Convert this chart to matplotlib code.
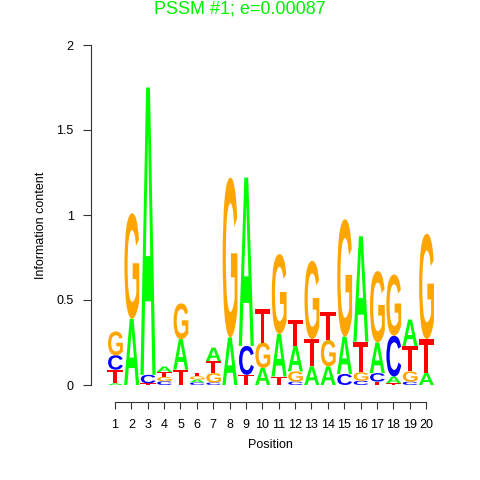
import matplotlib
matplotlib.use('Agg')
import matplotlib.pyplot as plt
from matplotlib.textpath import TextPath
from matplotlib.patches import PathPatch
from matplotlib.path import Path
from matplotlib.font_manager import FontProperties

plt.rcParams['font.family'] = ['Liberation Sans', 'DejaVu Sans']

# information content per base at each position
positions = list(range(1, 21))
height_A = [0.01, 0.39, 1.69, 0.032, 0.18, 0.017, 0.08, 0.28, 0.99, 0.10,
            0.25, 0.15, 0.11, 0.11, 0.22, 0.62, 0.18, 0.04, 0.155, 0.07]
height_C = [0.085, 0.0, 0.05, 0.022, 0.0, 0.015, 0.015, 0.0, 0.17, 0.0,
            0.0, 0.02, 0.0, 0.0, 0.065, 0.025, 0.05, 0.24, 0.02, 0.0]
height_G = [0.14, 0.62, 0.0, 0.025, 0.21, 0.019, 0.055, 0.94, 0.0, 0.15,
            0.47, 0.06, 0.46, 0.155, 0.69, 0.05, 0.42, 0.36, 0.06, 0.62]
height_T = [0.08, 0.0, 0.01, 0.03, 0.09, 0.021, 0.07, 0.0, 0.06, 0.20,
            0.05, 0.155, 0.16, 0.165, 0.0, 0.18, 0.02, 0.01, 0.15, 0.20]

base_colors = {'A': '#00FF00', 'C': '#0000FF', 'G': '#FFA500', 'T': '#FF0000'}
letter_font = FontProperties(family='Liberation Sans', weight='bold')


def letter_patch(letter, x, y0, h, width=0.96):
    """glyph stretched to fill box [x-w/2, x+w/2] x [y0, y0+h]"""
    tp = TextPath((0, 0), letter, size=1, prop=letter_font)
    verts = tp.vertices.copy()
    xmin, ymin = verts.min(axis=0)
    xmax, ymax = verts.max(axis=0)
    verts[:, 0] = x - width / 2 + (verts[:, 0] - xmin) / (xmax - xmin) * width
    verts[:, 1] = y0 + (verts[:, 1] - ymin) / (ymax - ymin) * h
    return PathPatch(Path(verts, tp.codes), facecolor=base_colors[letter],
                     edgecolor='none')


fig = plt.figure(figsize=(4.8, 4.8), dpi=100)
ax = fig.add_axes([91 / 480, 95 / 480, 349 / 480, 340 / 480])

for i, pos in enumerate(positions):
    stack = [('A', height_A[i]), ('C', height_C[i]),
             ('G', height_G[i]), ('T', height_T[i])]
    stack.sort(key=lambda s: s[1])
    y = 0.0
    for letter, h in stack:
        if h <= 0:
            continue
        ax.add_patch(letter_patch(letter, pos, y, h))
        y += h

ax.set_xlim(-0.466, 20.85)
ax.set_ylim(0, 2)

for side in ('top', 'right'):
    ax.spines[side].set_visible(False)
ax.spines['left'].set_bounds(0, 2)
# outward offset is in points: 17 px below the baseline
ax.spines['bottom'].set_position(('outward', 17 * 0.72))
ax.spines['bottom'].set_bounds(1, 20)
for side in ('left', 'bottom'):
    ax.spines[side].set_color('#333333')
    ax.spines[side].set_linewidth(0.8)

ax.set_xticks(positions)
ax.set_xticklabels([str(p) for p in positions])
ax.set_yticks([0, 0.5, 1, 1.5, 2])
ax.set_yticklabels(['0', '0.5', '1', '1.5', '2'])
ax.tick_params(axis='both', labelsize=9, length=5.5, width=0.8,
               color='#333333', pad=7)
ax.tick_params(axis='x', length=5, pad=7)

fig.text(0.5, 1 - 9 / 480, 'PSSM #1; e=0.00087', color='#00F000',
         fontsize=13, ha='center', va='center')
fig.text(270 / 480, 1 - 445 / 480, 'Position', fontsize=9,
         ha='center', va='center')
fig.text(41 / 480, 1 - 225 / 480, 'Information content', fontsize=9,
         ha='center', va='center', rotation=90)

plt.savefig('out.png', dpi=100)
plt.close()
